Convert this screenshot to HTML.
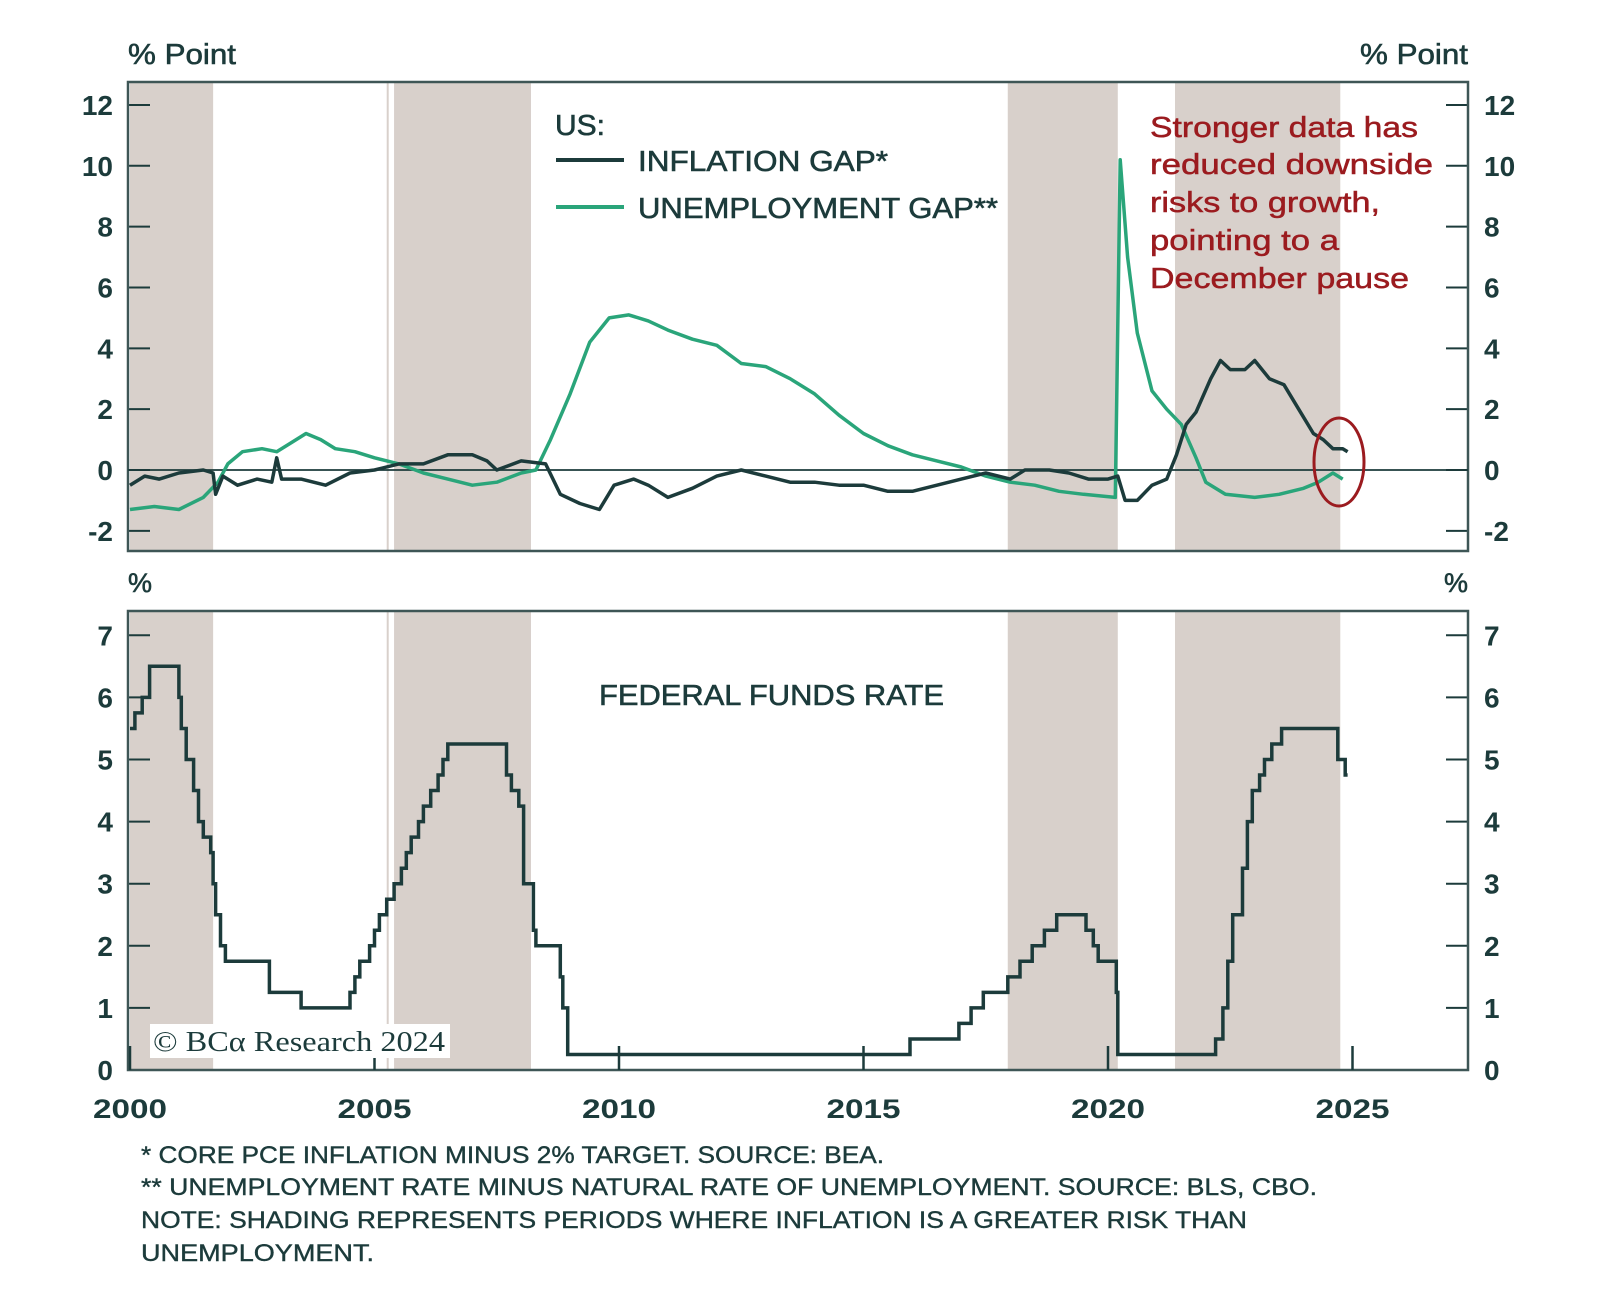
<!DOCTYPE html>
<html><head><meta charset="utf-8"><style>
html,body{margin:0;padding:0;background:#fff;}
svg{display:block;font-family:"Liberation Sans",sans-serif;}
svg text{font-family:"Liberation Sans",sans-serif;}
svg text.serif{font-family:"Liberation Serif",serif;}
</style></head><body>
<svg id="chart" width="1600" height="1291" viewBox="0 0 1600 1291"></svg>
<script>
const shadeStarts = [2000, 2005.4, 2017.95, 2021.37];
const shadeEnds = [2001.7, 2008.2, 2020.2, 2024.75];
const inflYears = [2000,2000.3,2000.6,2001,2001.5,2001.7,2001.75,2001.9,2002.2,2002.6,2002.9,2003.0,2003.1,2003.5,2004,2004.5,2005,2005.5,2006,2006.5,2007,2007.3,2007.5,2008,2008.5,2008.8,2009.2,2009.6,2009.9,2010.3,2010.6,2011,2011.5,2012,2012.5,2013,2013.5,2014,2014.5,2015,2015.5,2016,2016.5,2017,2017.5,2018,2018.3,2018.8,2019.2,2019.6,2020,2020.2,2020.35,2020.6,2020.9,2021.2,2021.4,2021.6,2021.8,2022.1,2022.3,2022.5,2022.8,2023,2023.3,2023.6,2023.9,2024.2,2024.4,2024.6,2024.8,2024.9];
const inflValues = [-0.5,-0.2,-0.3,-0.1,0,-0.1,-0.8,-0.2,-0.5,-0.3,-0.4,0.4,-0.3,-0.3,-0.5,-0.1,0,0.2,0.2,0.5,0.5,0.3,0,0.3,0.2,-0.8,-1.1,-1.3,-0.5,-0.3,-0.5,-0.9,-0.6,-0.2,0,-0.2,-0.4,-0.4,-0.5,-0.5,-0.7,-0.7,-0.5,-0.3,-0.1,-0.3,0,0,-0.1,-0.3,-0.3,-0.2,-1.0,-1.0,-0.5,-0.3,0.5,1.5,1.9,3.0,3.6,3.3,3.3,3.6,3.0,2.8,2.0,1.2,1.0,0.7,0.7,0.6];
const unempYears = [2000,2000.5,2001,2001.5,2001.8,2002,2002.3,2002.7,2003,2003.3,2003.6,2003.9,2004.2,2004.6,2005,2005.5,2006,2006.5,2007,2007.5,2008,2008.3,2008.6,2009,2009.4,2009.8,2010.2,2010.6,2011,2011.5,2012,2012.5,2013,2013.5,2014,2014.5,2015,2015.5,2016,2016.5,2017,2017.5,2018,2018.5,2019,2019.5,2020.15,2020.25,2020.4,2020.6,2020.9,2021.2,2021.5,2021.8,2022,2022.4,2023,2023.5,2024,2024.3,2024.6,2024.8];
const unempValues = [-1.3,-1.2,-1.3,-0.9,-0.4,0.2,0.6,0.7,0.6,0.9,1.2,1.0,0.7,0.6,0.4,0.2,-0.1,-0.3,-0.5,-0.4,-0.1,0,1.0,2.5,4.2,5.0,5.1,4.9,4.6,4.3,4.1,3.5,3.4,3.0,2.5,1.8,1.2,0.8,0.5,0.3,0.1,-0.2,-0.4,-0.5,-0.7,-0.8,-0.9,10.2,7.0,4.5,2.6,2.0,1.5,0.4,-0.4,-0.8,-0.9,-0.8,-0.6,-0.4,-0.1,-0.3];
const fedYears = [2000,2000.1,2000.25,2000.4,2001,2001.05,2001.15,2001.3,2001.4,2001.5,2001.65,2001.7,2001.75,2001.85,2001.95,2002.85,2003.5,2004.5,2004.6,2004.7,2004.9,2005,2005.1,2005.25,2005.4,2005.55,2005.65,2005.75,2005.9,2006,2006.15,2006.3,2006.4,2006.5,2007.7,2007.8,2007.95,2008.05,2008.25,2008.3,2008.8,2008.85,2008.95,2015.95,2016.95,2017.2,2017.45,2017.95,2018.2,2018.45,2018.7,2018.95,2019.55,2019.7,2019.8,2020.17,2020.2,2022.2,2022.35,2022.45,2022.55,2022.75,2022.85,2022.95,2023.1,2023.2,2023.35,2023.55,2024.7,2024.85];
const fedValues = [5.5,5.75,6.0,6.5,6.0,5.5,5.0,4.5,4.0,3.75,3.5,3.0,2.5,2.0,1.75,1.25,1.0,1.25,1.5,1.75,2.0,2.25,2.5,2.75,3.0,3.25,3.5,3.75,4.0,4.25,4.5,4.75,5.0,5.25,4.75,4.5,4.25,3.0,2.25,2.0,1.5,1.0,0.25,0.5,0.75,1.0,1.25,1.5,1.75,2.0,2.25,2.5,2.25,2.0,1.75,1.25,0.25,0.5,1.0,1.75,2.5,3.25,4.0,4.5,4.75,5.0,5.25,5.5,5.0,4.75];
const fedEnd = 2024.9;
const topTicks = [-2,0,2,4,6,8,10,12];
const botTicks = [0,1,2,3,4,5,6,7];
const yearTicks = [2000,2005,2010,2015,2020,2025];

const NS = "http://www.w3.org/2000/svg";
const svg = document.getElementById('chart');
const L = 128, R = 1468;
const x = y => 130 + (y - 2000) * 48.9;
const yTop = v => 470 - v * 30.42;
const yBot = v => 1070 - v * 62.1;
const DARK = "#1c3b3b", GREEN = "#2aa57a", SHADE = "#d8d0cb";
function el(tag, attrs, parent) {
  const e = document.createElementNS(NS, tag);
  for (const k in attrs) e.setAttribute(k, attrs[k]);
  (parent || svg).appendChild(e);
  return e;
}
function txt(s, attrs) { const t = el('text', attrs); t.textContent = s; return t; }

const panels = [{top:82, bot:551, ys:yTop, ticks:topTicks, name:'top'}, {top:611, bot:1070, ys:yBot, ticks:botTicks, name:'bottom'}];
panels.forEach(p => {
  for (let i = 0; i < shadeStarts.length; i++) {
    const r = el('rect', {x:x(shadeStarts[i]), y:p.top, width:x(shadeEnds[i]) - x(shadeStarts[i]), height:p.bot - p.top, fill:SHADE});
    
    
  }
  const sep = el('line', {x1:x(2005.27), x2:x(2005.27), y1:p.top, y2:p.bot, stroke:SHADE, 'stroke-width':2});
  
  
  p.ticks.forEach(t => {
    const yy = p.ys(t);
    el('line', {x1:L, x2:L + 22, y1:yy, y2:yy, stroke:DARK, 'stroke-width':2});
    el('line', {x1:R - 22, x2:R, y1:yy, y2:yy, stroke:DARK, 'stroke-width':2});
    const a = txt(String(t), {x:113, y:yy + 10, 'text-anchor':'end', 'font-size':28, 'font-weight':'bold', fill:DARK});
    
    
    const b = txt(String(t), {x:1484, y:yy + 10, 'text-anchor':'start', 'font-size':28, 'font-weight':'bold', fill:DARK});
    
    
  });
  const box = el('rect', {x:L, y:p.top, width:R - L, height:p.bot - p.top, fill:'none', stroke:'#3e5656', 'stroke-width':2.5});
  
  
});
el('line', {x1:L, x2:R, y1:yTop(0), y2:yTop(0), stroke:DARK, 'stroke-width':1.8});
function poly(xs, vs, ys, color, name) {
  const pts = xs.map((v, i) => x(v).toFixed(1) + ',' + ys(vs[i]).toFixed(1)).join(' ');
  const pl = el('polyline', {points:pts, fill:'none', stroke:color, 'stroke-width':3.5, 'stroke-linejoin':'round'});
  
  
}
poly(unempYears, unempValues, yTop, GREEN, 'unemployment-gap-line');
poly(inflYears, inflValues, yTop, DARK, 'inflation-gap-line');
let d = '';
fedYears.forEach((yr, i) => {
  d += (i === 0 ? 'M' : 'H') + x(yr).toFixed(1) + (i === 0 ? ',' + yBot(fedValues[i]).toFixed(1) : '') + 'V' + yBot(fedValues[i]).toFixed(1);
});
d += 'H' + x(fedEnd).toFixed(1);
const ff = el('path', {d:d, fill:'none', stroke:DARK, 'stroke-width':3.5});


yearTicks.forEach(yr => {
  el('line', {x1:x(yr), x2:x(yr), y1:1070, y2:1046, stroke:DARK, 'stroke-width':2.5});
  const t = txt(String(yr), {x:x(yr), y:1118, 'text-anchor':'middle', 'font-size':27, 'font-weight':'bold', fill:DARK, textLength:74, lengthAdjust:'spacingAndGlyphs'});
  
  
});
</script>
<svg width="1600" height="1291" style="position:absolute;left:0;top:0">
  <g fill="#1c3b3b" stroke="#1c3b3b" stroke-width="0.6">
    <text x="128" y="64" font-size="29" textLength="108" lengthAdjust="spacingAndGlyphs">% Point</text>
    <text x="1360" y="64" font-size="29" textLength="108" lengthAdjust="spacingAndGlyphs">% Point</text>
    <text x="128" y="592" font-size="27">%</text>
    <text x="1468" y="592" font-size="27" text-anchor="end">%</text>
    <text x="555" y="135" font-size="29" textLength="50" lengthAdjust="spacingAndGlyphs">US:</text>
    <text x="638" y="171" font-size="29" textLength="250" lengthAdjust="spacingAndGlyphs">INFLATION GAP*</text>
    <text x="638" y="218" font-size="29" textLength="360" lengthAdjust="spacingAndGlyphs">UNEMPLOYMENT GAP**</text>
    <text x="599" y="705" font-size="29" textLength="345" lengthAdjust="spacingAndGlyphs">FEDERAL FUNDS RATE</text>
  </g>
  <line x1="556" x2="624" y1="160" y2="160" stroke="#1c3b3b" stroke-width="4"/>
  <line x1="556" x2="624" y1="207" y2="207" stroke="#2aa57a" stroke-width="4"/>
  <g fill="#9b1b1f" stroke="#9b1b1f" stroke-width="0.5" font-size="29">
    <text x="1150" y="137" textLength="268" lengthAdjust="spacingAndGlyphs">Stronger data has</text>
    <text x="1150" y="174" textLength="283" lengthAdjust="spacingAndGlyphs">reduced downside</text>
    <text x="1150" y="212" textLength="230" lengthAdjust="spacingAndGlyphs">risks to growth,</text>
    <text x="1150" y="250" textLength="189" lengthAdjust="spacingAndGlyphs">pointing to a</text>
    <text x="1150" y="288" textLength="259" lengthAdjust="spacingAndGlyphs">December pause</text>
  </g>
  <ellipse cx="1339" cy="462" rx="25" ry="44" fill="none" stroke="#9b1b1f" stroke-width="3"/>
  <rect x="150" y="1024" width="300" height="34" fill="#fff"/>
  <text class="serif" x="153" y="1051" font-size="28" fill="#1c3b3b" textLength="292" lengthAdjust="spacingAndGlyphs">© BCα Research 2024</text>
  <g font-size="24" fill="#1c3b3b" stroke="#1c3b3b" stroke-width="0.4">
    <text x="141" y="1163" textLength="743" lengthAdjust="spacingAndGlyphs">* CORE PCE INFLATION MINUS 2% TARGET. SOURCE: BEA.</text>
    <text x="141" y="1195" textLength="1176" lengthAdjust="spacingAndGlyphs">** UNEMPLOYMENT RATE MINUS NATURAL RATE OF UNEMPLOYMENT. SOURCE: BLS, CBO.</text>
    <text x="141" y="1228" textLength="1106" lengthAdjust="spacingAndGlyphs">NOTE: SHADING REPRESENTS PERIODS WHERE INFLATION IS A GREATER RISK THAN</text>
    <text x="141" y="1261" textLength="233" lengthAdjust="spacingAndGlyphs">UNEMPLOYMENT.</text>
  </g>
</svg>
</body></html>
